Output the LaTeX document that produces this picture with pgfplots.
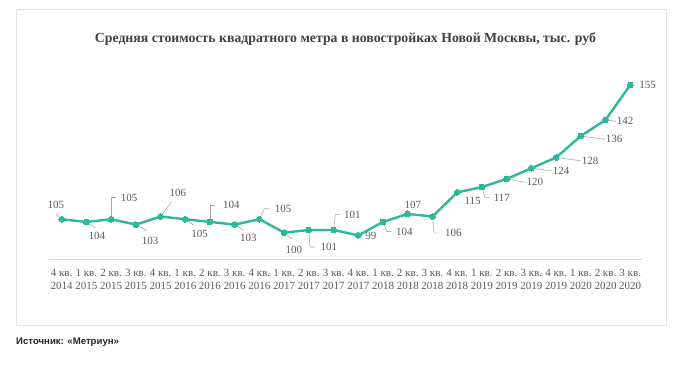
\documentclass[border=0pt]{standalone}
\usepackage{pgfplots}
\pgfplotsset{compat=1.18}
\usepackage{fontspec}
\setmainfont{Liberation Serif}
\newfontfamily\srcfont{Liberation Sans}
\definecolor{teal1}{RGB}{45,184,155}
\definecolor{lbl}{RGB}{89,89,89}
\definecolor{ldr}{RGB}{170,170,170}
\definecolor{framec}{RGB}{226,226,226}
\definecolor{axc}{RGB}{217,217,217}
\tikzset{
  dl/.style={font=\fontsize{11}{12}\selectfont, text=lbl, inner sep=0pt},
  ld/.style={draw=ldr, line width=0.6pt},
}
\begin{document}
\begin{tikzpicture}
\path[use as bounding box] (0,0) rectangle (680pt,368pt);
\draw[framec, line width=0.8pt] (16pt,43pt) rectangle (666pt,359pt);
\node[font=\bfseries\fontsize{13.8}{15}\selectfont, text=black!75] at (345.5pt,329pt) {Средняя стоимость квадратного метра в новостройках Новой Москвы, тыс. руб};
\node[anchor=west, font=\srcfont\bfseries\fontsize{9.6}{11}\selectfont, text=black!85, inner sep=0pt] at (16pt,25.5pt) {Источник: «Метриун»};
\begin{axis}[
  at={(49.3pt,108.5pt)}, anchor=south west, scale only axis,
  width=593.3pt, height=187.9pt,
  xmin=-0.5, xmax=23.5, ymin=90, ymax=160,
  axis y line=none, axis x line*=bottom,
  x axis line style={draw=axc, -, line width=0.8pt},
  xtick={0,...,23}, major tick length=0pt,
  xticklabels={{4 кв.\\2014},{1 кв.\\2015},{2 кв.\\2015},{3 кв.\\2015},{4 кв.\\2015},{1 кв.\\2016},{2 кв.\\2016},{3 кв.\\2016},{4 кв.\\2016},{1 кв.\\2017},{2 кв.\\2017},{3 кв.\\2017},{4 кв.\\2017},{1 кв.\\2018},{2 кв.\\2018},{3 кв.\\2018},{4 кв.\\2018},{1 кв.\\2019},{2 кв.\\2019},{3 кв.\\2019},{4 кв.\\2019},{1 кв.\\2020},{2 кв.\\2020},{3 кв.\\2020}},
  xticklabel style={align=center, font=\fontsize{11}{13.5}\selectfont, text=lbl, inner sep=0pt, yshift=-9.5pt},
  clip=false,
]
\addplot[teal1, line width=2.4pt, mark=*, mark size=2.9pt, mark options={fill=teal1, draw=teal1, line width=0pt}] coordinates {
(0,105) (1,104) (2,105) (3,103) (4,106) (5,105) (6,104) (7,103) (8,105) (9,100) (10,101) (11,101) (12,99) (13,104) (14,107) (15,106) (16,115) (17,117) (18,120) (19,124) (20,128) (21,136) (22,142) (23,155)};
% leaders
\draw[ld] ([shift={(-2.5pt,2.5pt)}]axis cs:0,105) -- ++(-3pt,3pt);
\draw[ld] ([shift={(2.5pt,-1.7pt)}]axis cs:1,104) -- ++(6.5pt,-4.3pt);
\draw[ld] ([shift={(0pt,3pt)}]axis cs:2,105) -- ++(0pt,18.6pt) -- ++(5pt,0pt);
\draw[ld] ([shift={(2.7pt,-1.5pt)}]axis cs:3,103) -- ++(8.3pt,-4.5pt);
\draw[ld] ([shift={(1.8pt,2.4pt)}]axis cs:4,106) -- ++(9.2pt,12.6pt);
\draw[ld] ([shift={(2.5pt,-1.7pt)}]axis cs:5,105) -- ++(6.5pt,-4.3pt);
\draw[ld] ([shift={(0pt,3pt)}]axis cs:6,104) -- ++(0pt,13.7pt) -- ++(5pt,0pt);
\draw[ld] ([shift={(2.5pt,-1.7pt)}]axis cs:7,103) -- ++(6.5pt,-4.3pt);
\draw[ld] ([shift={(1.3pt,2.7pt)}]axis cs:8,105) -- ++(3.7pt,7.9pt) -- ++(5pt,0pt);
\draw[ld] ([shift={(2.4pt,-1.8pt)}]axis cs:9,100) -- ++(5.6pt,-4.2pt);
\draw[ld] ([shift={(0.2pt,-3pt)}]axis cs:10,101) -- ++(0.8pt,-14pt) -- ++(5pt,0pt);
\draw[ld] ([shift={(0.3pt,3pt)}]axis cs:11,101) -- ++(1.4pt,12.4pt) -- ++(4.5pt,0pt);
\draw[ld] ([shift={(1.2pt,-2.8pt)}]axis cs:13,104) -- ++(2.8pt,-6.8pt) -- ++(4pt,0pt);
\draw[ld] ([shift={(0.3pt,-3pt)}]axis cs:15,106) -- ++(1.4pt,-13.6pt) -- ++(5.3pt,0pt);
\draw[ld] ([shift={(0.8pt,-2.9pt)}]axis cs:17,117) -- ++(2.2pt,-7.7pt) -- ++(5pt,0pt);
\draw[ld] ([shift={(3pt,-0.5pt)}]axis cs:18,120) -- ++(16pt,-2.9pt);
\draw[ld] ([shift={(3pt,-0.4pt)}]axis cs:19,124) -- ++(17.5pt,-2.3pt);
\draw[ld] ([shift={(3pt,-0.4pt)}]axis cs:20,128) -- ++(22pt,-2.9pt);
\draw[ld] ([shift={(3pt,-0.4pt)}]axis cs:21,136) -- ++(21pt,-2.9pt);
\draw[ld] ([shift={(3pt,-0.2pt)}]axis cs:22,142) -- ++(7.5pt,-1.2pt);
% labels
\node[dl] at ([shift={(-5.7pt,14.3pt)}]axis cs:0,105) {105};
\node[dl] at ([shift={(10.4pt,-14.3pt)}]axis cs:1,104) {104};
\node[dl] at ([shift={(18pt,21.6pt)}]axis cs:2,105) {105};
\node[dl] at ([shift={(14.3pt,-16.4pt)}]axis cs:3,103) {103};
\node[dl] at ([shift={(17.4pt,23.4pt)}]axis cs:4,106) {106};
\node[dl] at ([shift={(14.3pt,-14.7pt)}]axis cs:5,105) {105};
\node[dl] at ([shift={(21.3pt,16.7pt)}]axis cs:6,104) {104};
\node[dl] at ([shift={(13.7pt,-13.3pt)}]axis cs:7,103) {103};
\node[dl] at ([shift={(23.7pt,10.6pt)}]axis cs:8,105) {105};
\node[dl] at ([shift={(9.6pt,-17pt)}]axis cs:9,100) {100};
\node[dl] at ([shift={(20pt,-17pt)}]axis cs:10,101) {101};
\node[dl] at ([shift={(18.7pt,15.4pt)}]axis cs:11,101) {101};
\node[dl] at ([shift={(12.5pt,-1pt)}]axis cs:12,99) {99};
\node[dl] at ([shift={(21.3pt,-9.6pt)}]axis cs:13,104) {104};
\node[dl] at ([shift={(5pt,8.5pt)}]axis cs:14,107) {107};
\node[dl] at ([shift={(21pt,-16.6pt)}]axis cs:15,106) {106};
\node[dl] at ([shift={(15.4pt,-8.4pt)}]axis cs:16,115) {115};
\node[dl] at ([shift={(20pt,-10.6pt)}]axis cs:17,117) {117};
\node[dl] at ([shift={(28.3pt,-3.4pt)}]axis cs:18,120) {120};
\node[dl] at ([shift={(29.7pt,-2.7pt)}]axis cs:19,124) {124};
\node[dl] at ([shift={(34pt,-3.3pt)}]axis cs:20,128) {128};
\node[dl] at ([shift={(33.3pt,-3.3pt)}]axis cs:21,136) {136};
\node[dl] at ([shift={(19.7pt,-1.4pt)}]axis cs:22,142) {142};
\node[dl] at ([shift={(17.4pt,-0.3pt)}]axis cs:23,155) {155};
\end{axis}
\end{tikzpicture}
\end{document}
